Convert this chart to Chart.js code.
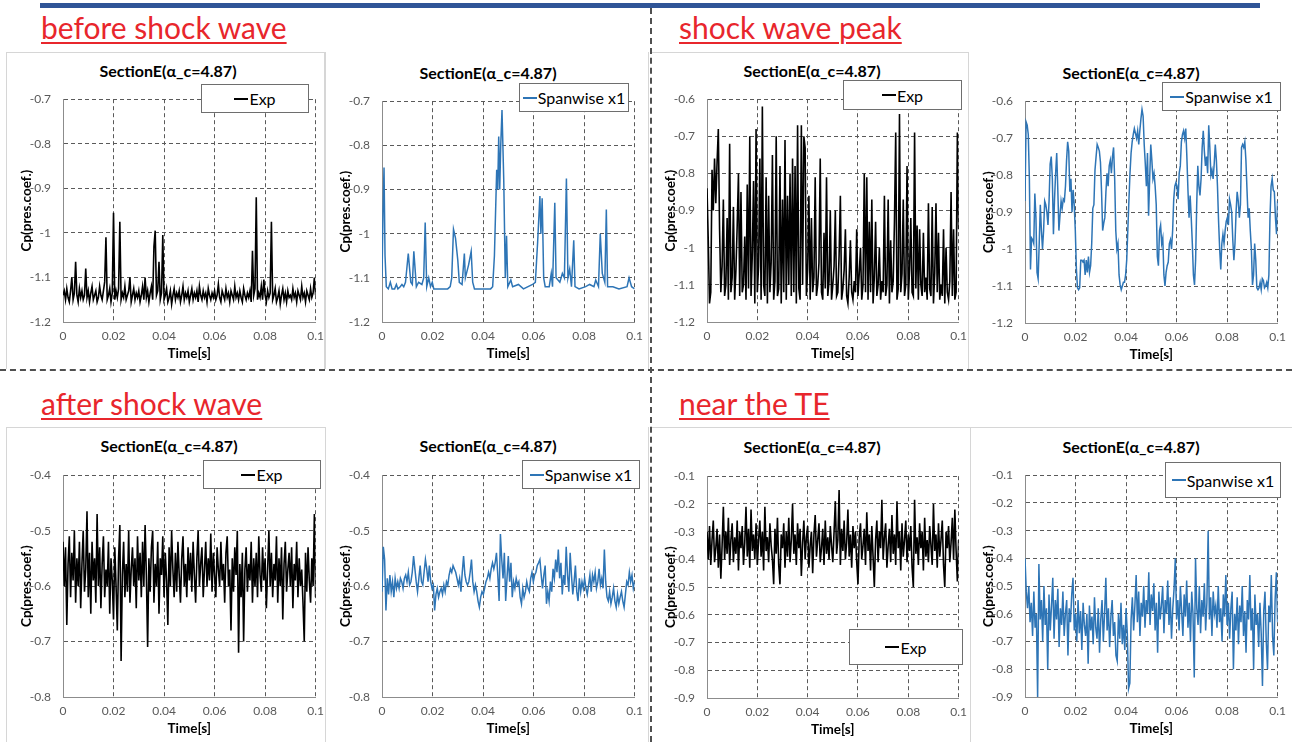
<!DOCTYPE html>
<html>
<head>
<meta charset="utf-8">
<script src="https://cdn.jsdelivr.net/npm/chart.js@4.4.1/dist/chart.umd.min.js"></script>
<style>
    body { margin: 0; width: 1292px; height: 742px; position: relative; background: #fff; overflow: hidden; font-family: 'Lato', 'Noto Sans', sans-serif; }
    .abs { position: absolute; }
    .heading { position: absolute; color: #E8262C; font-size: 30px; text-decoration: underline; text-decoration-thickness: 2px; text-underline-offset: 3px; white-space: nowrap; line-height: 1; }
    .ctitle { position: absolute; font-weight: bold; font-size: 16px; color: #000; white-space: nowrap; transform: translate(-50%, -50%); }
    .legend { position: absolute; background: #fff; border: 1px solid #6e6e6e; box-sizing: border-box; display: flex; align-items: center; justify-content: center; font-size: 16px; color: #000; white-space: nowrap; }
    .legend i { display: inline-block; width: 14px; height: 2px; margin-right: 1px; }
    .panel { position: absolute; border: 0 solid #d6d6d6; box-sizing: border-box; }
</style>
</head>
<body>
<div class="abs" style="left:40px;top:3px;width:1220px;height:5px;background:#2F5597"></div>
<div class="abs" style="left:650px;top:8px;height:734px;border-left:2px dashed #505050"></div>
<div class="abs" style="left:0;top:369px;width:1292px;border-top:2px dashed #505050"></div>

<div class="panel" style="left:6px;top:52px;width:320px;height:317px;border-width:1px 1px 0 1px"></div>
<div class="panel" style="left:324px;top:52px;width:325px;height:317px;border-width:0 1px 0 1px"></div>
<div class="panel" style="left:652px;top:52px;width:317px;height:317px;border-width:1px 1px 0 0"></div>
<div class="panel" style="left:6px;top:427px;width:320px;height:315px;border-width:1px 1px 0 1px"></div>
<div class="panel" style="left:324px;top:427px;width:325px;height:315px;border-width:0 1px 0 0"></div>
<div class="panel" style="left:652px;top:427px;width:319px;height:315px;border-width:1px 1px 0 0"></div>
<div class="panel" style="left:970px;top:427px;width:322px;height:315px;border-width:1px 0 0 0"></div>

<div class="heading" style="left:41px;top:12px">before shock wave</div>
<div class="heading" style="left:679px;top:12px">shock wave peak</div>
<div class="heading" style="left:41px;top:388px">after shock wave</div>
<div class="heading" style="left:679px;top:388px">near the TE</div>

<div id="charts"></div>

<script>
// time axis and Cp axis tick labels
const timeTicks = [0, 0.02, 0.04, 0.06, 0.08, 0.1];
const cpTicksBefore = [-1.2, -1.1, -1, -0.9, -0.8, -0.7];
const cpTicksPeak = [-1.2, -1.1, -1, -0.9, -0.8, -0.7, -0.6];
const cpTicksAfter = [-0.8, -0.7, -0.6, -0.5, -0.4];
const cpTicksTE = [-0.9, -0.8, -0.7, -0.6, -0.5, -0.4, -0.3, -0.2, -0.1];

const chartTitle = 'SectionE(α_c=4.87)';
const expLabel = 'Exp';
const spanLabel = 'Spanwise x1';

// before shock wave - experiment (uniform samples over 0..0.1 s)
const beforeExp = [
    -1.14,-1.13,-1.15,-1.125,-1.145,-1.155,-1.13,-1.10,-1.15,-1.135,-1.065,-1.14,-1.155,-1.125,-1.145,-1.13,-1.15,-1.14,-1.08,-1.145,
    -1.13,-1.155,-1.135,-1.12,-1.15,-1.14,-1.13,-1.155,-1.145,-1.12,-1.14,-1.15,-1.13,-1.11,-1.01,-1.15,-1.14,-1.125,-1.155,-1.135,
    -0.955,-1.15,-1.13,-1.145,-1.125,-0.975,-1.15,-1.135,-1.145,-1.12,-1.15,-1.14,-1.13,-1.10,-1.155,-1.14,-1.125,-1.15,-1.135,-1.145,
    -1.13,-1.155,-1.14,-1.12,-1.15,-1.10,-1.145,-1.13,-1.155,-1.135,-1.12,-1.15,-1.03,-0.995,-1.14,-1.13,-1.065,-1.15,-1.135,-1.005,
    -1.15,-1.14,-1.125,-1.155,-1.145,-1.13,-1.16,-1.14,-1.125,-1.15,-1.135,-1.145,-1.13,-1.155,-1.14,-1.12,-1.15,-1.135,-1.145,-1.13,
    -1.155,-1.14,-1.125,-1.15,-1.135,-1.145,-1.13,-1.155,-1.12,-1.14,-1.15,-1.13,-1.145,-1.135,-1.155,-1.125,-1.14,-1.15,-1.135,-1.145,
    -1.13,-1.15,-1.14,-1.115,-1.145,-1.155,-1.13,-1.14,-1.15,-1.125,-1.145,-1.135,-1.155,-1.13,-1.14,-1.15,-1.12,-1.145,-1.135,-1.15,
    -1.13,-1.145,-1.155,-1.125,-1.14,-1.15,-1.135,-1.145,-1.13,-1.155,-1.04,-1.14,-1.125,-0.92,-1.15,-1.135,-1.145,-1.12,-1.15,-1.105,
    -1.14,-1.155,-1.13,-1.145,-1.135,-0.975,-1.15,-1.14,-1.125,-1.155,-1.145,-1.13,-1.16,-1.14,-1.125,-1.15,-1.135,-1.155,-1.13,-1.145,
    -1.14,-1.15,-1.125,-1.145,-1.135,-1.155,-1.13,-1.14,-1.15,-1.12,-1.145,-1.135,-1.155,-1.13,-1.14,-1.15,-1.125,-1.145,-1.135,-1.10,
    -1.14
];

// before shock wave - spanwise x1 (time, Cp)
const beforeSpanT = [
    0,0.0004,0.0008,0.0012,0.0017,0.0025,0.0033,0.0040,0.0050,0.0057,0.0063,0.0072,0.0079,0.0086,0.0093,0.0104,0.0114,0.0120,0.0126,0.0136,
    0.0145,0.0158,0.0165,0.0171,0.0177,0.0185,0.0192,0.0199,0.0205,0.0260,0.0270,0.0276,0.0283,0.0291,0.0300,0.0306,0.0317,0.0326,0.0330,0.0343,
    0.0353,0.0359,0.0366,0.0430,0.0438,0.0445,0.0454,0.0458,0.0462,0.0466,0.0470,0.0475,0.0482,0.0488,0.0493,0.0498,0.0510,0.0517,0.0540,0.0560,
    0.0596,0.0607,0.0616,0.0625,0.0629,0.0634,0.0640,0.0646,0.0662,0.0670,0.0675,0.0684,0.0689,0.0704,0.0714,0.0722,0.0730,0.0736,0.0743,0.0750,
    0.0759,0.0764,0.0780,0.0806,0.0822,0.0839,0.0846,0.0857,0.0864,0.0872,0.0882,0.0888,0.0893,0.0914,0.0938,0.0970,0.0978,0.0988,0.1
];
const beforeSpanV = [
    -1.10,-0.95,-0.85,-1.05,-1.12,-1.125,-1.11,-1.125,-1.125,-1.115,-1.125,-1.12,-1.115,-1.12,-1.11,-1.045,-1.11,-1.115,-1.04,-1.12,
    -1.11,-1.115,-1.10,-0.975,-1.12,-1.10,-1.12,-1.11,-1.125,-1.125,-1.12,-1.10,-0.99,-1.01,-1.06,-1.11,-1.115,-1.045,-1.10,-1.07,
    -1.04,-1.11,-1.125,-1.125,-1.12,-1.05,-0.855,-0.90,-0.78,-0.90,-0.80,-0.72,-0.88,-1.10,-1.005,-1.12,-1.105,-1.12,-1.115,-1.125,
    -1.115,-1.11,-1.02,-0.915,-1.00,-0.92,-1.10,-1.12,-1.12,-1.09,-1.12,-0.93,-1.10,-1.11,-1.09,-1.10,-0.875,-1.10,-1.08,-1.12,
    -1.015,-1.12,-1.125,-1.12,-1.115,-1.12,-1.105,-1.12,-1.00,-1.09,-1.11,-0.945,-1.12,-1.12,-1.125,-1.12,-1.10,-1.12,-1.125
];

// shock wave peak - experiment
const peakExp = [
    -0.84,-0.98,-1.15,-1.12,-0.79,-0.90,-0.76,-0.88,-0.77,-0.68,-0.95,-1.12,-1.05,-0.87,-1.13,-1.10,-0.92,-1.14,-0.72,-1.12,
    -1.08,-0.89,-1.14,-1.06,-0.94,-0.80,-1.13,-0.85,-1.12,-1.10,-0.97,-1.14,-0.83,-1.11,-0.70,-1.13,-1.02,-0.82,-1.15,-0.68,
    -1.12,-1.05,-0.76,-1.14,-0.62,-1.10,-1.13,-0.81,-1.15,-0.86,-1.12,-1.04,-0.75,-1.14,-1.09,-0.70,-1.13,-1.11,-0.78,-1.15,
    -0.87,-1.12,-0.71,-1.14,-0.86,-1.10,-0.80,-1.13,-0.76,-1.12,-0.78,-1.15,-0.67,-1.11,-1.14,-0.67,-1.10,-0.70,-0.73,-1.13,
    -1.06,-0.86,-1.14,-0.92,-1.12,-1.08,-0.81,-1.13,-1.10,-1.04,-0.76,-1.12,-1.14,-0.96,-1.11,-0.81,-1.13,-1.09,-0.90,-1.14,
    -1.10,-1.05,-0.90,-1.13,-1.12,-1.02,-0.86,-1.14,-1.11,-1.06,-0.95,-1.13,-1.15,-1.08,-0.98,-1.12,-1.14,-1.09,-1.12,-0.95,
    -1.13,-1.07,-1.00,-1.14,-1.10,-0.80,-1.12,-0.81,-1.14,-0.93,-1.12,-0.87,-1.15,-1.08,-0.93,-1.13,-1.10,-1.00,-1.14,-1.09,
    -1.12,-0.86,-1.13,-1.10,-0.87,-1.15,-0.98,-1.12,-1.09,-0.93,-0.69,-1.14,-1.11,-0.64,-1.12,-1.07,-0.87,-1.13,-1.10,-0.78,
    -1.14,-1.06,-0.92,-1.12,-1.13,-0.69,-1.11,-0.94,-1.14,-0.95,-1.10,-1.13,-0.96,-1.12,-1.08,-1.14,-0.88,-1.11,-1.13,-0.89,
    -1.15,-1.07,-0.88,-1.12,-0.96,-1.14,-1.10,-1.13,-0.95,-1.15,-1.00,-1.12,-1.14,-1.09,-0.85,-1.13,-0.95,-1.14,-1.12,-0.69,
    -0.95
];

// shock wave peak - spanwise x1
const peakSpan = [
    -0.87,-0.656,-0.665,-0.69,-0.81,-1.055,-0.97,-0.975,-0.985,-0.85,-0.915,-1.063,-1.08,-0.985,-0.88,-0.95,-1.0,-0.95,-0.87,-0.88,
    -0.90,-0.935,-0.87,-0.77,-0.75,-0.81,-0.96,-0.865,-0.795,-0.74,-0.84,-0.95,-0.91,-0.87,-0.89,-0.865,-0.87,-0.83,-0.76,-0.71,
    -0.735,-0.845,-0.81,-0.90,-0.84,-0.88,-0.95,-1.055,
    -1.105,-1.11,-1.105,-1.03,-1.03,-1.035,-1.03,-1.07,-1.03,-1.063,-1.02,-1.063,-1.045,-0.985,-0.89,-0.88,-0.786,-0.75,-0.717,-0.725,
    -0.735,-0.765,-0.845,-0.95,-0.93,-0.915,-0.845,-0.795,-0.83,-0.775,-0.76,-0.795,-0.75,-0.725,-0.81,-0.95,-1.0,-0.985,-1.07,-1.097,
    -1.11,-1.10,-1.09,-1.09,-1.07,-1.03,-0.95,-0.87,
    -0.795,-0.74,-0.71,-0.69,-0.674,-0.687,-0.70,-0.68,-0.717,-0.68,-0.648,-0.622,-0.64,-0.717,-0.77,-0.83,-0.74,-0.91,-0.81,-0.717,
    -0.76,-0.81,-0.795,-0.83,-0.88,-1.02,-1.045,-0.95,-0.935,-0.985,-0.97,-1.07,-1.10,-1.063,-1.045,-1.035,-0.985,-0.975,-1.0,-0.95,
    -0.865,-0.83,-0.82,-0.83,-0.865,-0.795,-0.775,-0.71,-0.69,-0.68,-0.70,-0.674,-0.75,
    -0.84,-0.915,-0.855,-0.915,-0.985,-1.07,-1.097,-1.03,-0.88,-0.775,-0.83,-0.855,-0.81,-0.725,-0.68,-0.735,-0.775,-0.75,-0.795,-0.665,
    -0.725,-0.80,-0.786,-0.81,-0.77,-0.717,-0.76,-0.83,-0.925,-1.0,-1.055,-0.985,-0.96,-0.985,-0.95,-0.925,-0.915,-0.935,-0.865,-0.88,
    -0.90,-0.975,-1.03,-0.985,-0.90,-0.845,-0.87,-0.915,-0.88,-0.725,-0.717,
    -0.725,-0.71,-0.76,-0.84,-0.915,-0.89,-0.95,-1.0,-1.097,-1.07,-0.985,-1.03,-1.105,-1.11,-1.105,-1.09,-1.11,-1.08,-1.085,-1.105,
    -1.10,-1.09,-1.105,-1.07,-0.915,-0.83,-0.81,-0.84,-0.845,-0.915,-0.96,-0.87
];

// after shock wave - experiment
const afterExp = [
    -0.52,-0.60,-0.53,-0.67,-0.56,-0.51,-0.62,-0.54,-0.59,-0.50,-0.63,-0.55,-0.60,-0.52,-0.64,-0.56,-0.50,-0.61,-0.57,-0.465,
    -0.62,-0.54,-0.65,-0.52,-0.59,-0.55,-0.63,-0.47,-0.60,-0.53,-0.64,-0.56,-0.51,-0.62,-0.57,-0.60,-0.52,-0.65,-0.55,-0.59,
    -0.66,-0.53,-0.60,-0.68,-0.55,-0.49,-0.735,-0.58,-0.52,-0.62,-0.56,-0.61,-0.50,-0.63,-0.57,-0.53,-0.60,-0.55,-0.64,-0.51,
    -0.59,-0.54,-0.62,-0.52,-0.60,-0.49,-0.58,-0.71,-0.55,-0.61,-0.53,-0.50,-0.63,-0.56,-0.60,-0.52,-0.65,-0.55,-0.58,-0.51,
    -0.62,-0.54,-0.59,-0.67,-0.53,-0.60,-0.50,-0.57,-0.62,-0.54,-0.61,-0.52,-0.58,-0.63,-0.55,-0.51,-0.60,-0.56,-0.62,-0.53,
    -0.59,-0.54,-0.61,-0.52,-0.58,-0.63,-0.55,-0.50,-0.60,-0.56,-0.53,-0.62,-0.57,-0.52,-0.60,-0.55,-0.59,-0.505,-0.61,-0.54,
    -0.58,-0.62,-0.53,-0.57,-0.60,-0.52,-0.59,-0.56,-0.63,-0.54,-0.51,-0.60,-0.57,-0.68,-0.55,-0.61,-0.53,-0.58,-0.50,-0.72,
    -0.56,-0.62,-0.54,-0.70,-0.57,-0.53,-0.61,-0.56,-0.59,-0.52,-0.63,-0.55,-0.60,-0.54,-0.62,-0.51,-0.58,-0.61,-0.53,-0.59,
    -0.55,-0.64,-0.57,-0.50,-0.60,-0.54,-0.62,-0.56,-0.59,-0.51,-0.63,-0.55,-0.60,-0.53,-0.66,-0.56,-0.52,-0.61,-0.57,-0.54,
    -0.60,-0.53,-0.64,-0.56,-0.59,-0.52,-0.62,-0.55,-0.60,-0.57,-0.63,-0.70,-0.54,-0.61,-0.53,-0.59,-0.63,-0.55,-0.60,-0.47,
    -0.62
];

// after shock wave - spanwise x1
const afterSpan = [
    -0.61,-0.529,-0.552,-0.644,
    -0.586,-0.615,-0.58,-0.61,-0.592,-0.62,-0.586,-0.604,-0.592,-0.604,-0.586,-0.592,-0.604,-0.586,-0.58,-0.592,-0.575,-0.598,-0.592,-0.575,
    -0.546,-0.569,-0.592,-0.61,-0.586,-0.563,-0.592,-0.598,-0.575,-0.552,-0.569,-0.592,-0.563,-0.592,-0.604,-0.598,-0.644,-0.615,-0.604,-0.62,
    -0.61,-0.604,-0.615,-0.598,-0.61,-0.592,-0.598,-0.58,-0.569,-0.575,-0.563,-0.569,-0.575,-0.586,-0.598,-0.586,-0.61,-0.575,-0.546,-0.58,
    -0.592,-0.598,-0.592,-0.575,-0.552,-0.592,-0.61,-0.598,-0.61,-0.627,-0.638,-0.62,-0.61,-0.615,-0.604,-0.592,-0.586,-0.575,-0.586,-0.569,
    -0.558,-0.569,-0.558,-0.54,-0.58,-0.627,
    -0.506,-0.552,-0.586,
    -0.54,-0.627,-0.586,-0.546,-0.592,-0.558,-0.62,-0.592,-0.604,-0.586,-0.598,-0.592,-0.62,-0.632,-0.604,-0.62,-0.61,-0.592,-0.604,-0.61,
    -0.586,-0.575,-0.592,-0.58,-0.575,-0.563,-0.558,-0.552,-0.58,-0.604,-0.58,-0.563,-0.632,-0.61,-0.627,-0.592,-0.61,-0.569,-0.586,-0.552,
    -0.575,-0.534,-0.586,-0.558,-0.615,-0.58,-0.598,-0.529,-0.58,-0.61,-0.54,-0.58,-0.615,-0.592,-0.563,-0.61,-0.627,-0.586,-0.61,-0.592,
    -0.604,-0.586,-0.604,-0.615,-0.598,-0.58,-0.61,-0.58,-0.592,-0.575,-0.604,-0.592,-0.569,-0.598,-0.586,-0.604,-0.534,-0.592,-0.62,-0.627,
    -0.61,-0.632,-0.62,-0.604,-0.627,-0.638,-0.615,-0.632,-0.62,-0.61,-0.627,-0.638,-0.615,-0.592,-0.598,-0.575,-0.592,-0.58,-0.604,
    -0.592
];

// near the TE - experiment
const teExp = [
    -0.30,-0.40,-0.28,-0.42,-0.33,-0.26,-0.41,-0.36,-0.29,-0.43,-0.31,-0.47,-0.35,-0.21,-0.40,-0.30,-0.38,-0.25,-0.42,-0.33,
    -0.27,-0.41,-0.32,-0.38,-0.26,-0.44,-0.30,-0.36,-0.28,-0.42,-0.34,-0.21,-0.39,-0.29,-0.43,-0.22,-0.37,-0.31,-0.40,-0.27,
    -0.42,-0.33,-0.26,-0.39,-0.30,-0.44,-0.21,-0.37,-0.32,-0.41,-0.27,-0.35,-0.40,-0.49,-0.29,-0.38,-0.25,-0.42,-0.49,-0.31,
    -0.36,-0.27,-0.43,-0.30,-0.39,-0.25,-0.41,-0.33,-0.20,-0.38,-0.31,-0.42,-0.27,-0.36,-0.29,-0.46,-0.34,-0.26,-0.40,-0.32,
    -0.28,-0.43,-0.35,-0.30,-0.45,-0.31,-0.24,-0.39,-0.33,-0.27,-0.41,-0.36,-0.29,-0.42,-0.26,-0.38,-0.32,-0.40,-0.28,-0.35,
    -0.41,-0.30,-0.19,-0.38,-0.33,-0.15,-0.42,-0.29,-0.37,-0.26,-0.40,-0.34,-0.22,-0.39,-0.31,-0.43,-0.28,-0.36,-0.30,-0.41,
    -0.49,-0.32,-0.27,-0.40,-0.35,-0.29,-0.42,-0.23,-0.37,-0.31,-0.44,-0.28,-0.39,-0.50,-0.33,-0.26,-0.41,-0.30,-0.36,-0.185,
    -0.40,-0.32,-0.27,-0.43,-0.35,-0.29,-0.41,-0.24,-0.38,-0.31,-0.42,-0.19,-0.36,-0.30,-0.44,-0.27,-0.39,-0.33,-0.26,-0.41,
    -0.31,-0.37,-0.28,-0.43,-0.50,-0.185,-0.38,-0.32,-0.42,-0.27,-0.36,-0.30,-0.44,-0.25,-0.39,-0.33,-0.41,-0.28,-0.35,-0.42,
    -0.20,-0.37,-0.31,-0.43,-0.27,-0.39,-0.33,-0.26,-0.42,-0.50,-0.30,-0.36,-0.28,-0.41,-0.34,-0.25,-0.40,-0.22,-0.37,-0.48,
    -0.33
];

// near the TE - spanwise x1
const teSpan = [
    -0.40,-0.52,-0.58,-0.50,-0.63,-0.56,-0.68,-0.52,-0.65,-0.60,-0.90,-0.42,-0.62,-0.55,-0.70,-0.50,-0.64,-0.58,-0.80,-0.53,
    -0.66,-0.57,-0.47,-0.69,-0.55,-0.62,-0.51,-0.72,-0.58,-0.64,-0.52,-0.68,-0.60,-0.55,-0.75,-0.58,-0.63,-0.53,-0.47,-0.66,
    -0.60,-0.70,-0.55,-0.67,-0.59,-0.73,-0.56,-0.64,-0.68,-0.60,-0.78,-0.57,-0.66,-0.61,-0.71,-0.54,-0.65,-0.69,-0.58,-0.74,
    -0.62,-0.55,-0.70,-0.60,-0.47,-0.66,-0.58,-0.72,-0.61,-0.55,-0.68,-0.63,-0.75,-0.77,-0.60,-0.69,-0.56,-0.71,-0.64,-0.73,
    -0.58,-0.67,-0.87,-0.85,-0.62,-0.54,-0.66,-0.57,-0.46,-0.63,-0.52,-0.68,-0.56,-0.61,-0.50,-0.65,-0.55,-0.60,-0.45,-0.64,
    -0.53,-0.59,-0.49,-0.66,-0.56,-0.74,-0.52,-0.62,-0.57,-0.50,-0.67,-0.55,-0.60,-0.48,-0.64,-0.54,-0.69,-0.58,-0.51,-0.40,
    -0.62,-0.55,-0.66,-0.50,-0.59,-0.68,-0.53,-0.61,-0.48,-0.65,-0.56,-0.70,-0.52,-0.60,-0.83,-0.40,-0.58,-0.64,-0.50,-0.67,
    -0.55,-0.61,-0.49,-0.66,-0.56,-0.30,-0.62,-0.54,-0.68,-0.52,-0.60,-0.57,-0.65,-0.50,-0.63,-0.58,-0.70,-0.53,-0.61,-0.46,
    -0.64,-0.56,-0.69,-0.58,-0.52,-0.80,-0.60,-0.66,-0.54,-0.71,-0.57,-0.63,-0.50,-0.68,-0.59,-0.74,-0.55,-0.62,-0.46,-0.66,
    -0.58,-0.80,-0.53,-0.64,-0.60,-0.72,-0.56,-0.67,-0.86,-0.59,-0.52,-0.70,-0.80,-0.57,-0.63,-0.46,-0.68,-0.75,-0.55,-0.45,
    -0.63
];

const blackLine = '#000000';
const blueLine = '#2E75B6';

// evenly sampled record over 0..0.1 s
function toPoints(values) {
    const step = 0.1 / (values.length - 1);
    return values.map((v, i) => ({ x: i * step, y: v }));
}

function toPairs(times, values) {
    return times.map((t, i) => ({ x: t, y: values[i] }));
}

// plot area in page pixels: left, top, right, bottom
const panels = [
    { plot: [63, 90, 317, 322], title: [168, 70], legend: [201, 84, 108, 29], points: toPoints(beforeExp), color: blackLine, label: expLabel, ticks: cpTicksBefore },
    { plot: [382, 92, 636, 322], title: [488, 72], legend: [519, 83, 110, 29], points: toPairs(beforeSpanT, beforeSpanV), color: blueLine, label: spanLabel, ticks: cpTicksBefore },
    { plot: [707, 90, 960, 322], title: [812, 70], legend: [843, 80, 119, 30], points: toPoints(peakExp), color: blackLine, label: expLabel, ticks: cpTicksPeak },
    { plot: [1025, 92, 1279, 323], title: [1131, 72], legend: [1162, 82, 119, 29], points: toPoints(peakSpan), color: blueLine, label: spanLabel, ticks: cpTicksPeak },
    { plot: [63, 466, 317, 697], title: [169, 445], legend: [203, 460, 118, 29], points: toPoints(afterExp), color: blackLine, label: expLabel, ticks: cpTicksAfter },
    { plot: [382, 466, 636, 697], title: [488, 445], legend: [522, 460, 118, 29], points: toPoints(afterSpan), color: blueLine, label: spanLabel, ticks: cpTicksAfter },
    { plot: [707, 467, 960, 698], title: [812, 446], legend: [849, 629, 114, 36], points: toPoints(teExp), color: blackLine, label: expLabel, ticks: cpTicksTE },
    { plot: [1025, 466, 1279, 697], title: [1131, 446], legend: [1165, 462, 116, 36], points: toPoints(teSpan), color: blueLine, label: spanLabel, ticks: cpTicksTE }
];

const Y_BOX = 47;
const X_BOX = 44;
const PAD_TOP = 10;
const PAD_RIGHT = 14;
const holder = document.getElementById('charts');

panels.forEach(p => {
    const [l, t, r, b] = p.plot;
    const canvas = document.createElement('canvas');
    const w = (r - l) + Y_BOX + PAD_RIGHT;
    const h = (b - t) + PAD_TOP + X_BOX;
    canvas.width = w;
    canvas.height = h;
    canvas.style.cssText = `position:absolute;left:${l - Y_BOX}px;top:${t - PAD_TOP}px;width:${w}px;height:${h}px`;
    holder.appendChild(canvas);

    new Chart(canvas.getContext('2d'), {
        type: 'line',
        data: {
            datasets: [{
                label: p.label,
                data: p.points,
                borderColor: p.color,
                borderWidth: p.color === blackLine ? 1.6 : 1.5,
                pointRadius: 0,
                tension: 0,
                fill: false
            }]
        },
        options: {
            responsive: false,
            animation: false,
            layout: { padding: { top: PAD_TOP, right: PAD_RIGHT, left: 0, bottom: 0 } },
            plugins: {
                legend: { display: false },
                title: { display: false },
                tooltip: { enabled: false }
            },
            scales: {
                x: {
                    type: 'linear',
                    min: 0,
                    max: 0.1,
                    afterBuildTicks: s => { s.ticks = timeTicks.map(v => ({ value: v })); },
                    afterFit: s => { s.height = X_BOX; },
                    ticks: { color: '#595959', font: { family: 'Lato', size: 12 }, padding: 7, maxRotation: 0, autoSkip: false, callback: v => String(v) },
                    grid: { color: '#5a5a5a', lineWidth: 1, drawTicks: false },
                    border: { display: true, color: '#8c8c8c', width: 1, dash: [4, 3] },
                    title: { display: true, text: 'Time[s]', color: '#000', font: { family: 'Lato', size: 13.5, weight: 'bold' }, padding: { top: 0, bottom: 4 } }
                },
                y: {
                    type: 'linear',
                    min: p.ticks[0],
                    max: p.ticks[p.ticks.length - 1],
                    afterBuildTicks: s => { s.ticks = p.ticks.map(v => ({ value: v })); },
                    afterFit: s => { s.width = Y_BOX; },
                    ticks: { color: '#595959', font: { family: 'Lato', size: 12 }, padding: 12, autoSkip: false, callback: v => String(v) },
                    grid: { color: '#5a5a5a', lineWidth: 1, drawTicks: false },
                    border: { display: true, color: '#8c8c8c', width: 1, dash: [4, 3] },
                    title: { display: true, text: 'Cp(pres.coef.)', color: '#000', font: { family: 'Lato', size: 13.5, weight: 'bold' }, padding: { top: 3, bottom: 0 } }
                }
            }
        }
    });

    // chart title
    const title = document.createElement('div');
    title.className = 'ctitle';
    title.style.left = p.title[0] + 'px';
    title.style.top = p.title[1] + 'px';
    title.textContent = chartTitle;
    document.body.appendChild(title);

    // legend box drawn over the plot like the original
    const lg = document.createElement('div');
    lg.className = 'legend';
    lg.style.left = p.legend[0] + 'px';
    lg.style.top = p.legend[1] + 'px';
    lg.style.width = p.legend[2] + 'px';
    lg.style.height = p.legend[3] + 'px';
    lg.innerHTML = `<i style="background:${p.color}"></i><span></span>`;
    lg.querySelector('span').textContent = p.label;
    document.body.appendChild(lg);
});
</script>
</body>
</html>
